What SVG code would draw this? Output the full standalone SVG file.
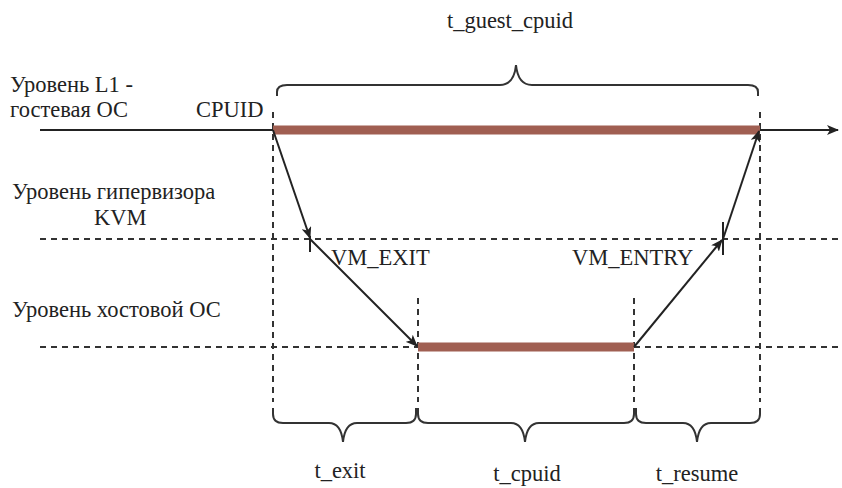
<svg xmlns="http://www.w3.org/2000/svg" width="842" height="488" viewBox="0 0 842 488">
<style>
text{font-family:"Liberation Serif","Times New Roman",serif;font-size:22.5px;fill:#222}
.dash{stroke:#333;stroke-width:2;stroke-dasharray:6 5;fill:none}
.line{stroke:#222;stroke-width:2;fill:none}
.bar{stroke:#a05f52;stroke-width:9;fill:none}
.brace{stroke:#333;stroke-width:2;fill:none}
.tick{stroke:#222;stroke-width:2}
</style>
<defs>
<marker id="arr" viewBox="0 0 12 10" refX="11" refY="5" markerWidth="12" markerHeight="10" markerUnits="userSpaceOnUse" orient="auto">
<path d="M0,0 L12,5 L0,10 L3,5 Z" fill="#222"/>
</marker>
</defs>
<rect width="842" height="488" fill="#fff"/>
<g id="levels">
<line class="line" x1="40" y1="130" x2="838" y2="130" marker-end="url(#arr)"/>
<line class="dash" x1="40" y1="239" x2="842" y2="239"/>
<line class="dash" x1="40" y1="347" x2="842" y2="347"/>
</g>
<g id="verticals">
<line class="dash" x1="273" y1="112" x2="273" y2="402"/>
<line class="dash" x1="760" y1="112" x2="760" y2="402"/>
<line class="dash" x1="418" y1="298" x2="418" y2="402"/>
<line class="dash" x1="634" y1="298" x2="634" y2="402"/>
</g>
<g id="bars">
<line class="bar" x1="273" y1="130" x2="760" y2="130"/>
<line class="bar" x1="418" y1="347" x2="634" y2="347"/>
</g>
<g id="connectors">
<line class="line" x1="273" y1="130" x2="310" y2="238" marker-end="url(#arr)"/>
<line class="tick" x1="310" y1="236" x2="310" y2="252"/>
<line class="line" x1="310" y1="239" x2="417" y2="346" marker-end="url(#arr)"/>
<line class="line" x1="634" y1="347" x2="722" y2="240" marker-end="url(#arr)"/>
<line class="tick" x1="723" y1="222" x2="723" y2="255"/>
<line class="line" x1="723" y1="239" x2="759" y2="131" marker-end="url(#arr)"/>
</g>
<g id="braces">
<path class="brace" d="M277,96 L277,92 Q277,85 287,85 L500,85 Q514,85 516,65 Q518,85 532,85 L748,85 Q758,85 758,92 L758,96"/>
<path class="brace" d="M273,408 L273,414 Q273,423 283,423 L329,423 Q341,423 343,442 Q345,423 357,423 L406,423 Q416,423 416,414 L416,408"/>
<path class="brace" d="M418,408 L418,414 Q418,423 428,423 L511,423 Q523,423 525,442 Q527,423 539,423 L624,423 Q634,423 634,414 L634,408"/>
<path class="brace" d="M636,408 L636,414 Q636,423 646,423 L683,423 Q695,423 697,442 Q699,423 711,423 L750,423 Q760,423 760,414 L760,408"/>
</g>
<g id="labels">
<text x="510" y="28" text-anchor="middle">t_guest_cpuid</text>
<text x="10" y="92">Уровень L1 -</text>
<text x="10" y="117">гостевая ОС</text>
<text x="196" y="117">CPUID</text>
<text x="12" y="199">Уровень гипервизора</text>
<text x="94" y="225">KVM</text>
<text x="12" y="317">Уровень хостовой ОС</text>
<text x="331" y="265">VM_EXIT</text>
<text x="572" y="265">VM_ENTRY</text>
<text x="340" y="478" text-anchor="middle">t_exit</text>
<text x="527" y="481" text-anchor="middle">t_cpuid</text>
<text x="697" y="481" text-anchor="middle">t_resume</text>
</g>
</svg>
